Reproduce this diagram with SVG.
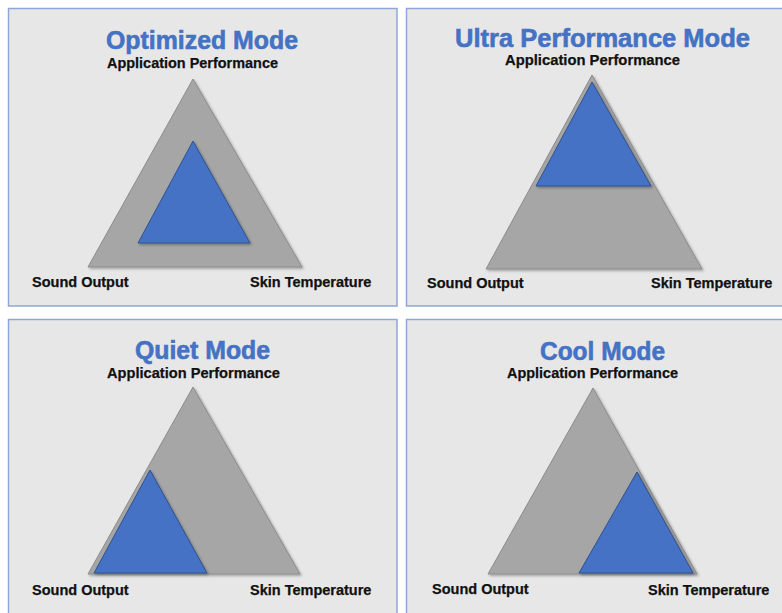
<svg xmlns="http://www.w3.org/2000/svg" width="782" height="613" viewBox="0 0 782 613">
<defs>
<filter id="sh" x="-10%" y="-10%" width="130%" height="130%">
<feDropShadow dx="1.5" dy="1.5" stdDeviation="1.2" flood-color="#000" flood-opacity="0.3"/>
</filter>
<style>
.panel{fill:#e8e7e7;stroke:#8ea6d8;stroke-width:1.5}
.grey{fill:#a6a6a6;stroke:#8c8c8c;stroke-width:1}
.blue{fill:#4472c4;stroke:#2f528f;stroke-width:1}
.title{font-family:"Liberation Sans",Arial,sans-serif;font-weight:bold;font-size:26.5px;fill:#4472c4;stroke:#4472c4;stroke-width:0.6}
.lbl{font-family:"Liberation Sans",Arial,sans-serif;font-weight:bold;font-size:14.5px;fill:#111;stroke:#111;stroke-width:0.25}
</style>
</defs>
<rect width="782" height="613" fill="#ffffff"/>

<g id="optimized">
<rect class="panel" x="8.5" y="8.5" width="388.5" height="297.5"/>
<text class="title" x="106" y="49" textLength="192" lengthAdjust="spacingAndGlyphs">Optimized Mode</text>
<text class="lbl" x="107" y="68" textLength="171" lengthAdjust="spacingAndGlyphs">Application Performance</text>
<polygon class="grey" filter="url(#sh)" points="193,79 302,267 88,267"/>
<polygon class="blue" filter="url(#sh)" points="193,141 250,243 138,243"/>
<text class="lbl" x="32" y="287">Sound Output</text>
<text class="lbl" x="250" y="287">Skin Temperature</text>
</g>

<g id="ultra">
<rect class="panel" x="406.5" y="8.5" width="380" height="297.5"/>
<text class="title" x="455" y="47" textLength="295" lengthAdjust="spacingAndGlyphs">Ultra Performance Mode</text>
<text class="lbl" x="505" y="65" textLength="175" lengthAdjust="spacingAndGlyphs">Application Performance</text>
<polygon class="grey" filter="url(#sh)" points="592,75 702,269 486,269"/>
<polygon class="blue" filter="url(#sh)" points="592,82 651,186 536,186"/>
<text class="lbl" x="427" y="288">Sound Output</text>
<text class="lbl" x="651" y="288">Skin Temperature</text>
</g>

<g id="quiet">
<rect class="panel" x="8.5" y="319.5" width="388.5" height="300"/>
<text class="title" x="135" y="359" style="font-size:25px" textLength="135" lengthAdjust="spacingAndGlyphs">Quiet Mode</text>
<text class="lbl" x="107" y="378" textLength="173" lengthAdjust="spacingAndGlyphs">Application Performance</text>
<polygon class="grey" filter="url(#sh)" points="193,387 300,574 88,574"/>
<polygon class="blue" filter="url(#sh)" points="150,470 207,573 94,573"/>
<text class="lbl" x="32" y="595">Sound Output</text>
<text class="lbl" x="250" y="595">Skin Temperature</text>
</g>

<g id="cool">
<rect class="panel" x="406.5" y="319.5" width="380" height="300"/>
<text class="title" x="540" y="360" style="font-size:25.5px" textLength="125" lengthAdjust="spacingAndGlyphs">Cool Mode</text>
<text class="lbl" x="507" y="378" textLength="171" lengthAdjust="spacingAndGlyphs">Application Performance</text>
<polygon class="grey" filter="url(#sh)" points="593,388 697,574 488,574"/>
<polygon class="blue" filter="url(#sh)" points="637,472 693,573 579,573"/>
<text class="lbl" x="432" y="594">Sound Output</text>
<text class="lbl" x="648" y="595">Skin Temperature</text>
</g>
</svg>
